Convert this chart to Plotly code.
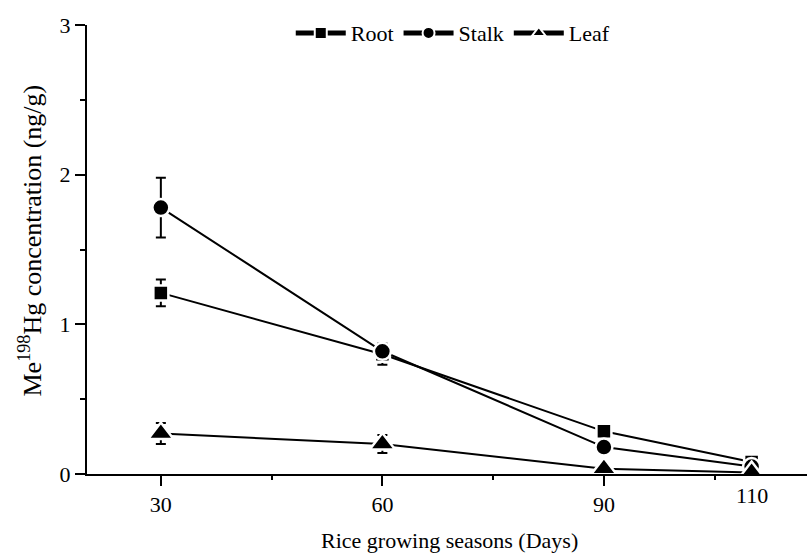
import plotly.graph_objects as go

days = [30, 60, 90, 110]
root = [1.21, 0.80, 0.285, 0.08]
root_err = [0.09, 0.07, 0.02, 0.02]
stalk = [1.78, 0.82, 0.18, 0.05]
stalk_err = [0.20, 0.05, 0.02, 0.01]
leaf = [0.27, 0.20, 0.035, 0.01]
leaf_err = [0.07, 0.06, 0.01, 0.005]

x_ticks = [30, 60, 90]
x_minor = [45, 75, 105]
y_ticks = [0, 1, 2, 3]
y_minor = [0.5, 1.5, 2.5]

FONT = "Liberation Serif, Times New Roman, serif"

fig = go.Figure()

def add(name, y, err, symbol, size):
    fig.add_trace(go.Scatter(
        x=days, y=y, name=name, mode="lines+markers",
        line=dict(color="black", width=2),
        marker=dict(symbol=symbol, size=size, color="black",
                    line=dict(color="white", width=2.5)),
        error_y=dict(type="data", array=err, color="black",
                     thickness=2, width=5),
    ))

add("Root", root, root_err, "square", 15)
add("Stalk", stalk, stalk_err, "circle", 17)
add("Leaf", leaf, leaf_err, "triangle-up", 22)

fig.update_layout(
    width=807, height=557,
    margin=dict(l=87, r=0, t=25, b=83),
    plot_bgcolor="white", paper_bgcolor="white",
    font=dict(family=FONT, size=22, color="black"),
    showlegend=True,
    legend=dict(orientation="h", x=0.508, xanchor="center",
                y=0.982, yanchor="middle", itemsizing="constant",
                font=dict(size=22), bgcolor="rgba(0,0,0,0)",
                itemwidth=50, tracegroupgap=0),
    xaxis=dict(range=[20, 117.5], showgrid=False, zeroline=False,
               showline=True, linecolor="black", linewidth=2,
               tickvals=x_ticks, ticktext=[str(v) for v in x_ticks],
               ticks="outside", ticklen=10, tickwidth=2, tickcolor="black",
               tickfont=dict(size=22),
               minor=dict(tickvals=x_minor, ticks="outside", ticklen=4,
                          tickwidth=2, tickcolor="black")),
    yaxis=dict(range=[0, 3], showgrid=False, zeroline=False,
               showline=True, linecolor="black", linewidth=2,
               tickvals=y_ticks, ticktext=[str(v) for v in y_ticks],
               ticks="outside", ticklen=10, tickwidth=2, tickcolor="black",
               tickfont=dict(size=22),
               minor=dict(tickvals=y_minor, ticks="outside", ticklen=5,
                          tickwidth=2, tickcolor="black")),
    annotations=[
        dict(text="110", x=110, xref="x", y=-0.015, yref="paper",
             xanchor="center", yanchor="top", showarrow=False,
             font=dict(size=22)),
        dict(text="Rice growing seasons (Days)", x=0.504, xref="paper",
             y=-0.147, yref="paper", xanchor="center", yanchor="middle",
             showarrow=False, font=dict(size=22)),
        dict(text="Me<sup>198</sup>Hg concentration (ng/g)", x=(31 - 87) / 720,
             xref="paper", y=0.52, yref="paper", textangle=-90,
             showarrow=False, xanchor="center", yanchor="middle",
             font=dict(size=26)),
    ],
)

fig.write_html("out.html")
